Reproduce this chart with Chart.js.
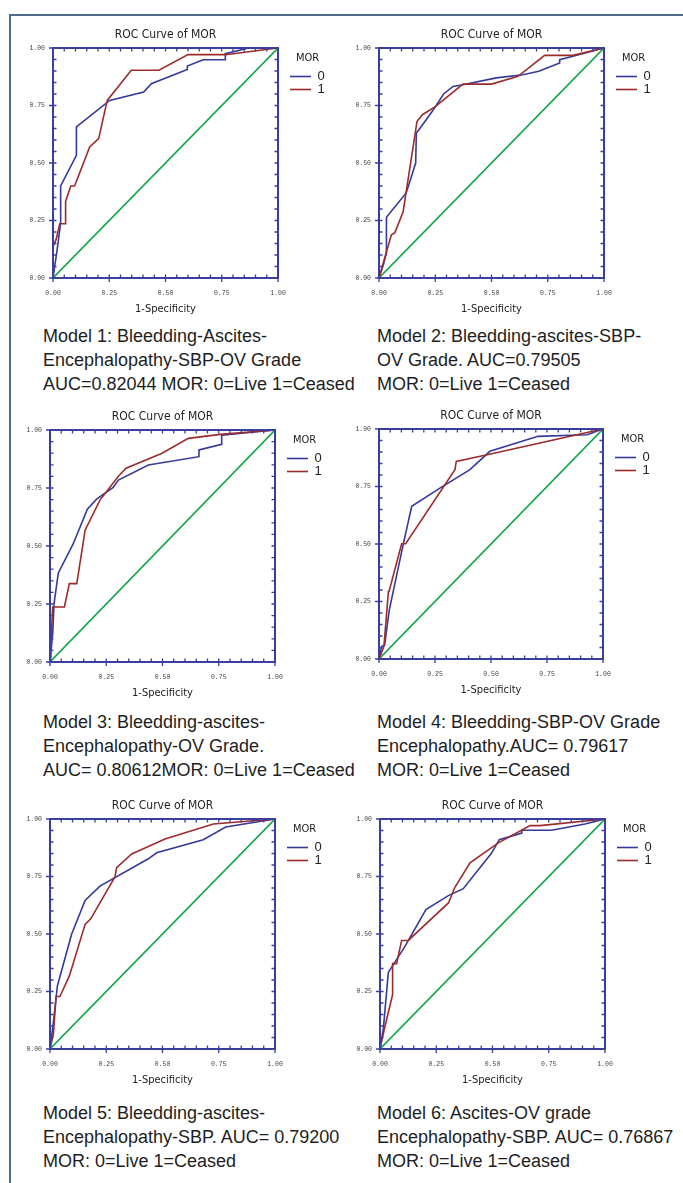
<!DOCTYPE html>
<html><head><meta charset="utf-8">
<script src="https://cdn.jsdelivr.net/npm/chart.js@4.4.1/dist/chart.umd.min.js"></script>
<style>
html,body{margin:0;padding:0;background:#fff;}
body{width:683px;height:1183px;position:relative;overflow:hidden;}
#frame{position:absolute;left:9px;top:14px;width:700px;height:1200px;border-top:2px solid #4e6c8a;border-left:2px solid #4e6c8a;}
.panel{position:absolute;}
.cap{position:absolute;font-family:"Liberation Sans",Arial,sans-serif;font-size:18px;line-height:24px;color:#1e1e1e;white-space:nowrap;}
</style></head><body>
<div id="frame"></div>
<div class="cap" style="left:43px;top:324px">Model 1: Bleedding-Ascites-<br>Encephalopathy-SBP-OV Grade<br>AUC=0.82044 MOR: 0=Live 1=Ceased</div>
<div class="cap" style="left:377px;top:324px">Model 2: Bleedding-ascites-SBP-<br>OV Grade. AUC=0.79505<br>MOR: 0=Live 1=Ceased</div>
<div class="cap" style="left:43px;top:710px">Model 3: Bleedding-ascites-<br>Encephalopathy-OV Grade.<br>AUC= 0.80612MOR: 0=Live 1=Ceased</div>
<div class="cap" style="left:377px;top:710px">Model 4: Bleedding-SBP-OV Grade<br>Encephalopathy.AUC= 0.79617<br>MOR: 0=Live 1=Ceased</div>
<div class="cap" style="left:43px;top:1101px">Model 5: Bleedding-ascites-<br>Encephalopathy-SBP. AUC= 0.79200<br>MOR: 0=Live 1=Ceased</div>
<div class="cap" style="left:377px;top:1101px">Model 6: Ascites-OV grade<br>Encephalopathy-SBP. AUC= 0.76867<br>MOR: 0=Live 1=Ceased</div>
<script>
// ---- data ----
const classLabels = ['0', '1'];
const tickLabels = ['0.00', '0.25', '0.50', '0.75', '1.00'];
const diagFpr = [0, 1];
const diagTpr = [0, 1];

const m1_fpr0 = [0, 0.018, 0.034, 0.034, 0.104, 0.104, 0.252, 0.403, 0.437, 0.597, 0.597, 0.667, 0.766, 0.766, 0.87, 1];
const m1_tpr0 = [0, 0.12, 0.24, 0.40, 0.533, 0.657, 0.772, 0.809, 0.845, 0.907, 0.922, 0.949, 0.949, 0.975, 1.0, 1];
const m1_fpr1 = [0, 0, 0.015, 0.03, 0.056, 0.056, 0.079, 0.096, 0.163, 0.203, 0.241, 0.348, 0.471, 0.6, 0.766, 1];
const m1_tpr1 = [0, 0.135, 0.171, 0.236, 0.236, 0.333, 0.40, 0.40, 0.57, 0.606, 0.772, 0.903, 0.903, 0.971, 0.971, 1];

const m2_fpr0 = [0, 0.02, 0.033, 0.033, 0.121, 0.163, 0.166, 0.188, 0.24, 0.287, 0.329, 0.373, 0.521, 0.64, 0.71, 0.803, 0.803, 0.862, 1];
const m2_tpr0 = [0, 0.06, 0.109, 0.264, 0.37, 0.5, 0.63, 0.659, 0.729, 0.80, 0.833, 0.84, 0.87, 0.884, 0.899, 0.935, 0.949, 0.964, 1];
const m2_fpr1 = [0, 0.055, 0.07, 0.107, 0.169, 0.193, 0.25, 0.373, 0.5, 0.618, 0.736, 0.862, 1];
const m2_tpr1 = [0, 0.188, 0.196, 0.287, 0.681, 0.71, 0.745, 0.843, 0.843, 0.877, 0.968, 0.968, 1];

const m3_fpr0 = [0, 0.012, 0.018, 0.037, 0.104, 0.166, 0.207, 0.281, 0.304, 0.437, 0.662, 0.662, 0.763, 0.763, 1];
const m3_tpr0 = [0, 0.122, 0.252, 0.384, 0.511, 0.659, 0.702, 0.753, 0.784, 0.849, 0.885, 0.914, 0.938, 0.978, 1];
const m3_fpr1 = [0, 0.003, 0.012, 0.064, 0.086, 0.119, 0.156, 0.222, 0.304, 0.338, 0.496, 0.615, 0.756, 1];
const m3_tpr1 = [0, 0.065, 0.237, 0.237, 0.338, 0.338, 0.568, 0.698, 0.801, 0.835, 0.899, 0.964, 0.981, 1];

const m4_fpr0 = [0, 0.012, 0.025, 0.046, 0.108, 0.146, 0.272, 0.406, 0.495, 0.71, 0.93, 1];
const m4_tpr0 = [0, 0.055, 0.06, 0.214, 0.497, 0.664, 0.743, 0.823, 0.903, 0.968, 0.975, 1];
const m4_fpr1 = [0, 0.022, 0.042, 0.045, 0.101, 0.119, 0.339, 0.345, 0.498, 1];
const m4_tpr1 = [0, 0.055, 0.294, 0.294, 0.501, 0.501, 0.823, 0.859, 0.891, 1];

const m5_fpr0 = [0, 0.015, 0.033, 0.096, 0.156, 0.222, 0.437, 0.474, 0.681, 0.781, 1];
const m5_tpr0 = [0, 0.116, 0.275, 0.499, 0.646, 0.708, 0.827, 0.853, 0.910, 0.965, 1];
const m5_fpr1 = [0, 0.015, 0.027, 0.044, 0.086, 0.156, 0.181, 0.289, 0.296, 0.363, 0.511, 0.726, 1];
const m5_tpr1 = [0, 0.065, 0.228, 0.228, 0.318, 0.542, 0.566, 0.749, 0.788, 0.848, 0.913, 0.978, 1];

const m6_fpr0 = [0, 0.015, 0.037, 0.059, 0.111, 0.204, 0.304, 0.37, 0.496, 0.53, 0.63, 0.63, 0.763, 0.911, 1];
const m6_tpr0 = [0, 0.09, 0.333, 0.367, 0.446, 0.606, 0.667, 0.697, 0.852, 0.91, 0.939, 0.951, 0.951, 0.978, 1];
const m6_fpr1 = [0, 0.022, 0.056, 0.056, 0.074, 0.096, 0.126, 0.304, 0.333, 0.4, 0.526, 0.667, 0.711, 1];
const m6_tpr1 = [0, 0.099, 0.236, 0.371, 0.371, 0.472, 0.472, 0.635, 0.703, 0.809, 0.896, 0.971, 0.971, 1];

// ---- styling / layout ----
const AXIS_COLOR = '#3a3f9e', C0 = '#35399b', C1 = '#9c2b2b', CD = '#14a64b';
const NARROW = '"Liberation Sans Narrow","Arial Narrow","DejaVu Sans Condensed",sans-serif';
const SANS = '"Liberation Sans",Arial,sans-serif';
const MONO = '"Liberation Mono","DejaVu Sans Mono",monospace';
const MINOR_STEP = 0.05, MAJOR_STEP = 0.25, TICK_IN = 3.5, TICK_OUT = 4;
const YW = 45, TH = 32, BH = 40, SPACER = 12, LW = 35, PR = 12;
const boxes = [
  {l:53, t:48, r:278, b:278}, {l:379, t:48, r:604, b:278},
  {l:50, t:430, r:275, b:662}, {l:379, t:429, r:603, b:659},
  {l:50, t:819, r:275, b:1049}, {l:380, t:819, r:605, b:1049}
];

const framePlugin = {
  id: 'rocFrame',
  afterDatasetsDraw(chart) {
    const {ctx, chartArea: a, scales: {x, y}} = chart;
    ctx.save();
    ctx.strokeStyle = AXIS_COLOR;
    ctx.lineWidth = 1.3;
    const n = Math.round(1 / MINOR_STEP), m = Math.round(MAJOR_STEP / MINOR_STEP);
    ctx.beginPath();
    for (let k = 0; k <= n; k++) {
      const v = k * MINOR_STEP, px = x.getPixelForValue(v), py = y.getPixelForValue(v);
      const out = (k % m === 0) ? TICK_OUT : 0;
      ctx.moveTo(px, a.bottom + out); ctx.lineTo(px, a.bottom - TICK_IN);
      ctx.moveTo(px, a.top); ctx.lineTo(px, a.top + TICK_IN);
      ctx.moveTo(a.left - out, py); ctx.lineTo(a.left + TICK_IN, py);
      ctx.moveTo(a.right, py); ctx.lineTo(a.right - TICK_IN, py);
    }
    ctx.stroke();
    ctx.lineWidth = 2;
    ctx.strokeRect(a.left, a.top, a.right - a.left, a.bottom - a.top);
    ctx.restore();
  }
};

const pts = (xs, ys) => xs.map((v, i) => ({x: v, y: ys[i]}));
const hidden = {display: false, drawTicks: false};

function panel(i, fpr0, tpr0, fpr1, tpr1) {
  const g = boxes[i];
  const W = YW + (g.r - g.l) + SPACER + LW + PR, H = TH + (g.b - g.t) + BH;
  const wrap = document.createElement('div');
  wrap.className = 'panel';
  wrap.style.left = (g.l - YW) + 'px'; wrap.style.top = (g.t - TH) + 'px';
  wrap.style.width = W + 'px'; wrap.style.height = H + 'px';
  const cv = document.createElement('canvas');
  cv.width = W; cv.height = H; cv.style.width = W + 'px'; cv.style.height = H + 'px';
  wrap.appendChild(cv); document.body.appendChild(wrap);
  const line = (label, data, color, order) => ({label, data, borderColor: color, backgroundColor: color,
    borderWidth: 1.6, showLine: true, pointRadius: 0, tension: 0, order});
  new Chart(cv, {
    type: 'scatter',
    data: {datasets: [
      line(classLabels[0], pts(fpr0, tpr0), C0, 2),
      line(classLabels[1], pts(fpr1, tpr1), C1, 1),
      line('ref', pts(diagFpr, diagTpr), CD, 3)
    ]},
    options: {
      responsive: false, animation: false, events: [],
      layout: {padding: {left: 0, top: 0, right: PR, bottom: 0}},
      scales: {
        x: {type: 'linear', position: 'bottom', min: 0, max: 1,
          ticks: {stepSize: MAJOR_STEP, padding: 11, color: '#444', font: {family: MONO, size: 6.5},
            callback: (v, k) => tickLabels[k], maxRotation: 0, autoSkip: false},
          grid: hidden, border: {display: false},
          title: {display: true, text: '1-Specificity', color: '#222', font: {family: NARROW, size: 11}, padding: {top: 0, bottom: 2}},
          afterFit: s => { s.height = BH; }},
        y: {type: 'linear', position: 'left', min: 0, max: 1,
          ticks: {stepSize: MAJOR_STEP, padding: 8, color: '#444', font: {family: MONO, size: 6.5},
            callback: (v, k) => tickLabels[k], autoSkip: false},
          grid: hidden, border: {display: false},
          afterFit: s => { s.width = YW; }},
        xt: {type: 'linear', position: 'top', min: 0, max: 1, ticks: {display: false}, grid: hidden, border: {display: false},
          title: {display: true, text: 'ROC Curve of MOR', color: '#222', font: {family: NARROW, size: 12}, padding: {top: 12, bottom: 0}},
          afterFit: s => { s.height = TH; }},
        ys: {type: 'linear', position: 'right', min: 0, max: 1, ticks: {display: false}, grid: hidden, border: {display: false},
          afterFit: s => { s.width = SPACER; }}
      },
      plugins: {
        legend: {display: true, position: 'right', align: 'start', maxWidth: LW,
          title: {display: true, text: 'MOR', color: '#222', font: {family: NARROW, size: 11}, padding: {top: 37, bottom: 3.8}, position: 'center'},
          labels: {usePointStyle: true, pointStyle: 'line', pointStyleWidth: 21, padding: 0, color: '#222',
            font: {family: SANS, size: 13}, filter: it => it.datasetIndex < 2,
            sort: (a, b) => a.datasetIndex - b.datasetIndex}},
        tooltip: {enabled: false}
      }
    },
    plugins: [framePlugin]
  });
}

panel(0, m1_fpr0, m1_tpr0, m1_fpr1, m1_tpr1);
panel(1, m2_fpr0, m2_tpr0, m2_fpr1, m2_tpr1);
panel(2, m3_fpr0, m3_tpr0, m3_fpr1, m3_tpr1);
panel(3, m4_fpr0, m4_tpr0, m4_fpr1, m4_tpr1);
panel(4, m5_fpr0, m5_tpr0, m5_fpr1, m5_tpr1);
panel(5, m6_fpr0, m6_tpr0, m6_fpr1, m6_tpr1);
</script>
</body></html>
